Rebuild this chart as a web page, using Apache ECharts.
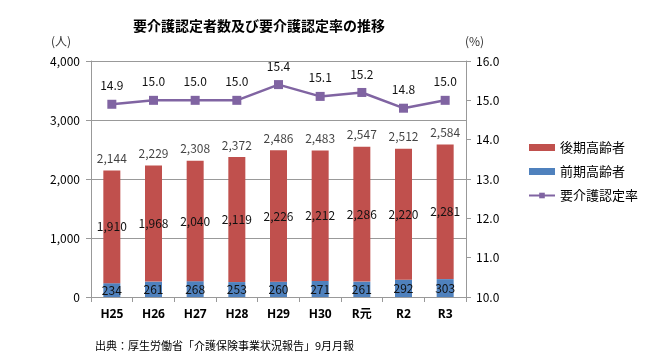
<!DOCTYPE html>
<html><head><meta charset="utf-8">
<script src="https://cdn.jsdelivr.net/npm/echarts@6/dist/echarts.min.js"></script>
<style>html,body{margin:0;padding:0;background:#fff}#c{width:650px;height:364px}</style>
</head><body><div id="c"></div>
<script>
const categories = ['H25','H26','H27','H28','H29','H30','R元','R2','R3'];
const early = [234,261,268,253,260,271,261,292,303];
const late = [1910,1968,2040,2119,2226,2212,2286,2220,2281];
const totals = [2144,2229,2308,2372,2486,2483,2547,2512,2584];
const rate = [14.9,15.0,15.0,15.0,15.4,15.1,15.2,14.8,15.0];

const font = '"Noto Sans CJK JP", "Noto Sans", sans-serif';
const chart = echarts.init(document.getElementById('c'));
chart.setOption({
  animation:false,
  textStyle:{fontFamily:font},
  title:[
    {text:'要介護認定者数及び要介護認定率の推移',left:254,top:14,textAlign:'center',textStyle:{fontSize:14,fontWeight:'bold',color:'#000',fontFamily:font}},
    {text:'(人)',left:46,top:30,textStyle:{fontSize:12,fontWeight:'normal',color:'#333',fontFamily:font}},
    {text:'(%)',left:460,top:30,textStyle:{fontSize:12,fontWeight:'normal',color:'#333',fontFamily:font}},
    {text:'出典：厚生労働省「介護保険事業状況報告」9月月報',left:90,top:335,textStyle:{fontSize:11,fontWeight:'normal',color:'#000',fontFamily:font}}
  ],
  legend:{
    orient:'vertical',left:523,top:136,itemGap:11,itemWidth:26,itemHeight:7,
    data:[{name:'後期高齢者',icon:'rect'},{name:'前期高齢者',icon:'rect'},{name:'要介護認定率'}],
    textStyle:{fontSize:13,color:'#000',fontFamily:font}
  },
  grid:{left:91,right:184,top:61,bottom:67},
  xAxis:{type:'category',data:categories,
    axisLine:{lineStyle:{color:'#999'}},
    axisTick:{show:true,lineStyle:{color:'#999'}},
    axisLabel:{fontWeight:'bold',fontSize:12,color:'#000',margin:12,fontFamily:'"Open Sans", "Noto Sans CJK JP", sans-serif'}},
  yAxis:[
    {type:'value',min:0,max:4000,interval:1000,
      axisLine:{show:true,lineStyle:{color:'#999'}},axisTick:{show:true,lineStyle:{color:'#999'}},
      splitLine:{lineStyle:{color:'#999'}},
      axisLabel:{color:'#000',fontSize:12,margin:11,formatter:v=>v.toLocaleString('en-US')}},
    {type:'value',min:10,max:16,interval:1,
      axisLine:{show:true,lineStyle:{color:'#999'}},axisTick:{show:true,lineStyle:{color:'#999'}},
      splitLine:{show:false},
      axisLabel:{color:'#000',fontSize:12,margin:10,formatter:v=>v.toFixed(1)}}
  ],
  series:[
    {name:'前期高齢者',type:'bar',stack:'a',data:early,barWidth:17,
      itemStyle:{color:'#4F81BD'},
      label:{show:true,position:'inside',color:'#111',fontSize:12}},
    {name:'後期高齢者',type:'bar',stack:'a',data:late,barWidth:17,
      itemStyle:{color:'#C0504D'},
      label:{show:true,position:'inside',color:'#111',fontSize:12,formatter:p=>p.value.toLocaleString('en-US')}},
    {name:'total',type:'scatter',data:totals,symbolSize:0,silent:true,
      label:{show:true,position:'top',distance:6,color:'#111',fontSize:12,formatter:p=>p.value.toLocaleString('en-US')}},
    {name:'要介護認定率',type:'line',yAxisIndex:1,data:rate,
      symbol:'rect',symbolSize:9,
      lineStyle:{color:'#8064A2',width:2.5},itemStyle:{color:'#8064A2'},
      label:{show:true,position:'top',distance:8,color:'#111',fontSize:12,formatter:p=>p.value.toFixed(1)}}
  ]
});
</script></body></html>
